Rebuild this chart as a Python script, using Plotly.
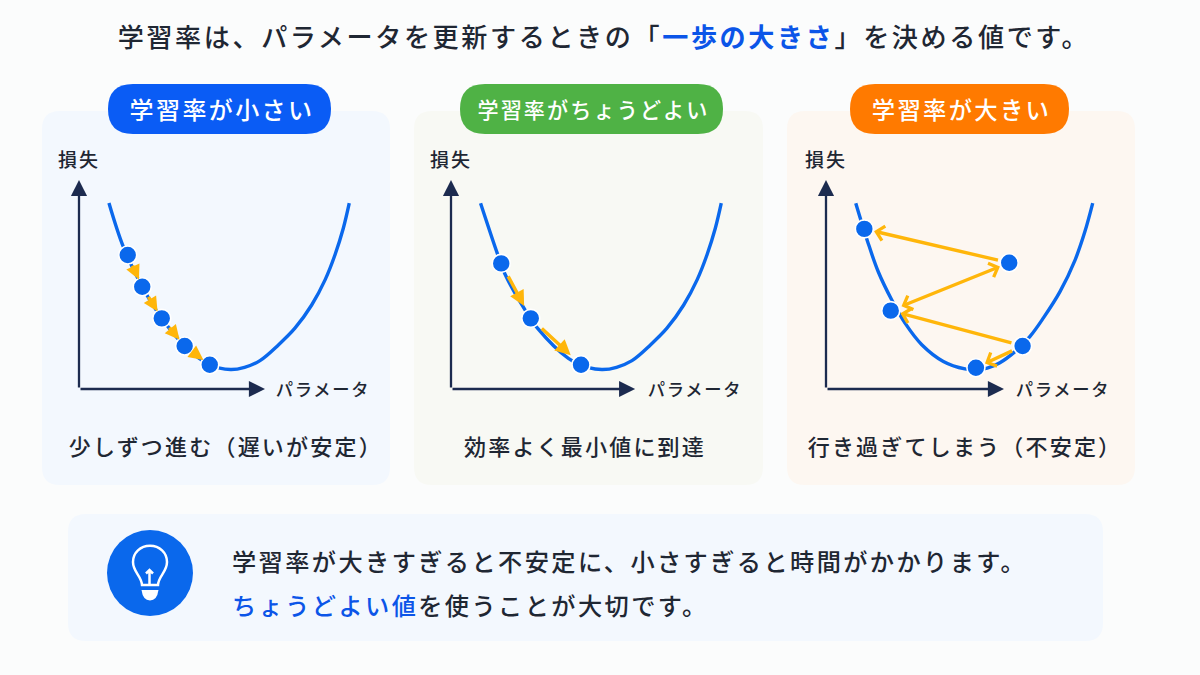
import plotly.graph_objects as go
from plotly.subplots import make_subplots

FONT = "Noto Sans CJK JP"
INK = "#1f2733"
NAVY = "#1c2b4f"
BLUE = "#0a68ec"
TEXT_BLUE = "#0b55e8"
AMBER = "#ffb60a"

# values: parameter (x) and loss (y), axis tips are at about 10
small_curve_x = [1.61, 2.38, 3.40, 4.45, 5.68, 7.03, 8.15, 8.90, 9.73, 10.72, 11.61, 12.51, 13.23, 13.76, 14.21, 14.53]
small_curve_y = [8.90, 6.81, 4.89, 3.38, 2.06, 1.16, 0.93, 1.04, 1.36, 2.11, 2.91, 4.02, 5.22, 6.41, 7.69, 8.89]
small_dots_x = [2.62, 3.40, 4.45, 5.68, 7.03]
small_dots_y = [6.41, 4.89, 3.38, 2.06, 1.16]

good_curve_x = [1.59, 2.49, 2.90, 3.93, 4.66, 6.31, 7.40, 8.15, 8.90, 9.73, 10.72, 11.61, 12.51, 13.23, 13.76, 14.21, 14.53]
good_curve_y = [8.89, 6.49, 5.50, 3.86, 2.90, 1.47, 1.02, 0.93, 1.04, 1.36, 2.11, 2.91, 4.02, 5.22, 6.41, 7.69, 8.89]
good_dots_x = [2.70, 4.29, 6.99]
good_dots_y = [6.01, 3.38, 1.16]

large_curve_x = [1.60, 2.24, 2.81, 3.53, 4.25, 5.15, 6.31, 7.47, 8.06, 8.67, 9.35, 10.16, 10.97, 11.68, 12.58, 13.39, 13.92, 14.34]
large_curve_y = [8.89, 7.05, 5.61, 4.27, 3.15, 2.12, 1.32, 0.96, 0.91, 1.00, 1.26, 1.79, 2.52, 3.39, 4.66, 6.17, 7.53, 8.89]
large_dots_x = [2.06, 3.48, 8.06, 10.57, 9.85]
large_dots_y = [7.66, 3.75, 1.02, 2.06, 6.04]

# steps as indexes into the dots
small_steps = [(0, 1), (1, 2), (2, 3), (3, 4)]
good_steps = [(0, 1), (1, 2)]
large_steps = [(3, 2), (3, 1), (1, 4), (4, 0)]

axis_tips_x = [10.0, 9.9, 9.57]
axis_tip_y = 10.0

pill_labels = ["学習率が小さい", "学習率がちょうどよい", "学習率が大きい"]
captions = ["少しずつ進む（遅いが安定）", "効率よく最小値に到達", "行き過ぎてしまう（不安定）"]
y_label = "損失"
x_label = "パラメータ"


def px(x):
    return x / 1200


def py(y):
    return 1 - y / 675


def path(*cmds):
    # cmds are (letter, x, y, ...) in canvas pixels
    out = []
    for cmd in cmds:
        nums = cmd[1:]
        pts = [f"{px(nums[i]):.5f},{py(nums[i + 1]):.5f}" for i in range(0, len(nums), 2)]
        out.append(cmd[0] + " ".join(pts))
    return " ".join(out)


def rounded(x0, y0, x1, y1, r):
    return path(("M", x0 + r, y0), ("L", x1 - r, y0), ("Q", x1, y0, x1, y0 + r),
                ("L", x1, y1 - r), ("Q", x1, y1, x1 - r, y1), ("L", x0 + r, y1),
                ("Q", x0, y1, x0, y1 - r), ("L", x0, y0 + r), ("Q", x0, y0, x0 + r, y0)) + " Z"


def box(x0, y0, x1, y1, r, color):
    return dict(type="path", xref="paper", yref="paper", path=rounded(x0, y0, x1, y1, r),
                fillcolor=color, line=dict(width=0), layer="below")


def label(text, x, y, size, color=INK, anchor="center", weight=500):
    return dict(text=text, x=px(x), y=py(y), xref="paper", yref="paper", xanchor=anchor, align=anchor,
                yanchor="middle", showarrow=False, font=dict(family=FONT, size=size, color=color, weight=weight))


panels = [
    dict(origin=79, bg="#f3f8fe", rect=(42, 390), pill=(108, 331), pill_color="#0a5cf5", pill_size=24,
         pill_x=222, cx=small_curve_x, cy=small_curve_y, dx=small_dots_x, dy=small_dots_y, steps=small_steps,
         label_x=323, caption_x=226, head=0.85, off=(10, 8)),
    dict(origin=451, bg="#f8f9f4", rect=(414, 763), pill=(460, 723), pill_color="#4fb245", pill_size=21.1,
         pill_x=593, cx=good_curve_x, cy=good_curve_y, dx=good_dots_x, dy=good_dots_y, steps=good_steps,
         label_x=694.5, caption_x=585, head=0.9, off=(13, 14)),
    dict(origin=826, bg="#fdf7f1", rect=(787, 1135), pill=(850, 1069), pill_color="#ff7a00", pill_size=23.3,
         pill_x=961, cx=large_curve_x, cy=large_curve_y, dx=large_dots_x, dy=large_dots_y, steps=large_steps,
         label_x=1062.5, caption_x=965, head=0.85, off=(10, 10)),
]

fig = make_subplots(rows=1, cols=3)
shapes = []
annotations = [
    label('学習率は、パラメータを更新するときの「<span style="color:%s"><b>一歩の大きさ</b></span>」を決める値です。' % TEXT_BLUE,
          604, 36, 26.1),
]

for i, p in enumerate(panels):
    n = i + 1
    xname, yname = f"x{n}", f"y{n}"
    fig.add_trace(go.Scatter(x=p["cx"], y=p["cy"], mode="lines", cliponaxis=False,
                             line=dict(color=BLUE, width=3.4, shape="spline", smoothing=1),
                             hoverinfo="skip", showlegend=False), row=1, col=n)
    fig.add_trace(go.Scatter(x=p["dx"], y=p["dy"], mode="markers", cliponaxis=False,
                             marker=dict(color=BLUE, size=18, line=dict(color="white", width=1.6)),
                             showlegend=False), row=1, col=n)

    # 18.6 and 20.9 px per unit
    fig.update_xaxes(row=1, col=n, visible=False, range=[0, 300 / 18.6],
                     domain=[px(p["origin"]), px(p["origin"] + 300)])
    fig.update_yaxes(row=1, col=n, visible=False, range=[0, 219 / 20.9],
                     domain=[py(389), py(170)])

    shapes.append(box(p["rect"][0], 111, p["rect"][1], 485, 18, p["bg"]))
    shapes.append(box(p["pill"][0], 84, p["pill"][1], 134, 25, p["pill_color"]))

    annotations.append(label(pill_labels[i], p["pill_x"], 108.5, p["pill_size"], "white"))
    annotations.append(label(captions[i], p["caption_x"], 445, 22))
    annotations.append(label(y_label, p["origin"], 158, 19))
    annotations.append(label(x_label, p["label_x"], 388.5, 17.3))

    # axes with arrow tips
    for tip_x, tip_y in [(axis_tips_x[i], 0), (0, axis_tip_y)]:
        annotations.append(dict(x=tip_x, y=tip_y, ax=0, ay=0, xref=xname, yref=yname, axref=xname, ayref=yname,
                                showarrow=True, text="", arrowhead=2, arrowsize=1.4, arrowwidth=2.3,
                                arrowcolor=NAVY))

    # steps between the dots
    for a, b in p["steps"]:
        both = i == 2 and (a, b) == (1, 4)
        annotations.append(dict(x=p["dx"][b], y=p["dy"][b], ax=p["dx"][a], ay=p["dy"][a],
                                xref=xname, yref=yname, axref=xname, ayref=yname,
                                showarrow=True, text="", arrowhead=4 if i == 2 else 2, arrowsize=p["head"],
                                arrowwidth=3.4, startarrowhead=4, startarrowsize=p["head"],
                                arrowside="end+start" if both else "end",
                                arrowcolor=AMBER, standoff=p["off"][1], startstandoff=p["off"][0]))

# hint box at the bottom
shapes.append(box(68, 514, 1103, 641, 18, "#f3f8fe"))
shapes.append(dict(type="circle", xref="paper", yref="paper", x0=px(107), x1=px(193), y0=py(530), y1=py(616),
                   fillcolor=BLUE, line=dict(width=0), layer="below"))
bulb_line = dict(color="white", width=2.5)
shapes.append(dict(type="path", xref="paper", yref="paper", line=bulb_line, layer="above",
                   path=path(("M", 142, 585), ("C", 141.5, 576, 133, 572, 133, 562),
                             ("C", 133, 552.5, 140.5, 545.7, 150, 545.7),
                             ("C", 159.5, 545.7, 167, 552.5, 167, 562),
                             ("C", 167, 572, 158.5, 576, 158, 585), ("L", 142, 585)) + " Z"))
shapes.append(dict(type="path", xref="paper", yref="paper", line=bulb_line, layer="above",
                   path=path(("M", 149.5, 584), ("L", 149.5, 571), ("M", 146, 573.5), ("L", 149.5, 570),
                             ("L", 153, 573.5))))
shapes.append(dict(type="path", xref="paper", yref="paper", line=dict(width=0), fillcolor="white", layer="above",
                   path=path(("M", 141.5, 590), ("L", 158.5, 590), ("Q", 157, 600.5, 150, 600.5),
                             ("Q", 143, 600.5, 141.5, 590)) + " Z"))

annotations.append(label("学習率が大きすぎると不安定に、小さすぎると時間がかかります。", 230, 560, 24.2, anchor="left"))
annotations.append(label('<span style="color:%s">ちょうどよい値</span>を使うことが大切です。' % TEXT_BLUE, 230, 604, 24.2, anchor="left"))

fig.update_layout(width=1200, height=675, margin=dict(l=0, r=0, t=0, b=0),
                  paper_bgcolor="#fbfcfc", plot_bgcolor="rgba(0,0,0,0)",
                  shapes=shapes, annotations=annotations, showlegend=False)

# plotly fonts have no letter spacing, the reference text is set wide
script = """document.body.style.margin='0';
document.querySelectorAll('.annotation-text').forEach(function (t) { t.style.letterSpacing = '0.1em'; });"""
fig.write_html("out.html", post_script=script, config={"displayModeBar": False})
